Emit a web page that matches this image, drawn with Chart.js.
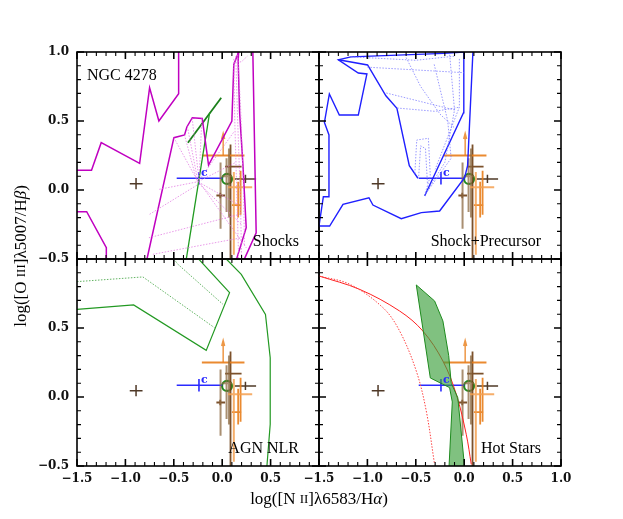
<!DOCTYPE html>
<html lang="en">
<head>
<meta charset="UTF-8">
<title>NGC 4278 diagnostic diagram</title>
<script src="https://cdn.jsdelivr.net/npm/chart.js"></script>
<style>
  body { margin: 0; background: #fff; }
  #wrap { position: relative; width: 623px; height: 519px; }
  #wrap canvas { position: absolute; left: 0; top: 0; }
</style>
</head>
<body>
<div id="wrap">
  <canvas id="p1" width="623" height="519"></canvas>
  <canvas id="p2" width="623" height="519"></canvas>
  <canvas id="p3" width="623" height="519"></canvas>
  <canvas id="p4" width="623" height="519"></canvas>
</div>
<script>
// ---- axes ----
const xRange = [-1.5, 1.0];
const yRange = [-0.5, 1.0];
const xTicksLeft = [-1.5, -1.0, -0.5, 0.0, 0.5];
const xTicksRight = [-1.5, -1.0, -0.5, 0.0, 0.5, 1.0];
const yTicksTop = [1.0, 0.5, 0.0, -0.5];
const yTicksBottom = [0.5, 0.0, -0.5];

// ---- observations (same in every panel) : [x, y, xLo, xHi, yLo, yHi] ----
const obsOrange = [
  [0.01, 0.25, -0.21, 0.23, 0.25, 0.25],
  [0.165, -0.11, 0.10, 0.20, -0.20, 0.06],
  [0.19, 0.10, 0.19, 0.19, -0.18, 0.14]
];
const obsOrangeLight = [
  [0.12, 0.02, 0.06, 0.31, -0.47, 0.13]
];
const obsArrow = [[0.01, 0.25, 0.41]]; // x, from y, to y
const obsTan = [
  [-0.017, -0.04, -0.017, -0.017, -0.28, 0.20],
  [0.045, 0.10, 0.0, 0.10, -0.16, 0.23],
  [0.07, 0.12, 0.07, 0.07, -0.20, 0.30]
];
const obsBrown = [
  [0.086, 0.17, 0.03, 0.20, -0.55, 0.33],
  [-0.02, -0.04, -0.06, 0.03, -0.06, -0.02]
];
const obsDark = [
  [0.24, 0.08, 0.13, 0.35, 0.05, 0.11],
  [-0.89, 0.046, -0.955, -0.823, 0.005, 0.087]
];
const obsBlue = [[-0.24, 0.085, -0.47, 0.0, 0.04, 0.13]];
const obsCircle = [[0.05, 0.08]];

// ---- Shocks ----
const shockLines = [
  [[-1.5, 0.143], [-1.35, 0.143], [-1.25, 0.343], [-0.853, 0.193], [-0.75, 0.741], [-0.654, 0.5], [-0.45, 0.698], [-0.45, 1.05]],
  [[-1.5, -0.157], [-1.40, -0.157], [-1.197, -0.418], [-1.197, -0.55]],
  [[-0.777, -0.5], [-0.499, 0.379], [-0.389, 0.399], [-0.365, 0.457], [-0.309, 0.524], [-0.206, 0.519], [-0.141, 0.181], [0.10, 0.50], [0.12, 0.91], [0.17, 1.0]],
  [[0.17, 1.0], [0.165, 0.94], [0.18, 0.56], [0.213, 0.198], [0.248, -0.273], [0.127, -0.55]],
  [[0.316, 1.02], [0.351, -0.31], [0.197, -0.55]]
];
const shockGrid = [
  [[-0.65, 0.005], [-0.25, 0.06]],
  [[-0.75, -0.176], [-0.25, 0.04]],
  [[-0.757, -0.346], [0.18, -0.176]],
  [[-0.716, -0.466], [0.20, -0.346]],
  [[-0.5, 0.38], [-0.25, 0.06], [0.15, -0.10]],
  [[-0.39, 0.40], [-0.26, 0.06], [0.20, -0.25]],
  [[-0.31, 0.52], [-0.24, 0.07], [0.12, 0.42]],
  [[-0.21, 0.52], [-0.24, 0.06], [0.25, -0.42]],
  [[-0.36, 0.46], [-0.25, 0.06], [0.14, 0.20]],
  [[0.12, 0.95], [0.13, 0.5], [0.15, 0.0], [0.17, -0.5]],
  [[0.14, 0.97], [0.16, 0.5], [0.19, -0.1], [0.20, -0.5]],
  [[0.16, 0.98], [0.19, 0.6], [0.22, 0.0], [0.23, -0.4]],
  [[0.12, 0.92], [0.20, 0.93], [0.26, 0.97]]
];
const shockGreen = [[-0.354, 0.343], [-0.01, 0.669]];
const shockGreenThin = [[-0.13, 0.56], [-0.371, -0.5]];

// ---- Shock + Precursor ----
const precLines = [
  [[-1.5, -0.261], [-1.39, -0.261], [-1.252, -0.104], [-0.984, -0.056], [-0.943, -0.109], [-0.65, -0.208], [-0.443, -0.164], [-0.254, -0.152], [0.004, 0.089], [0.035, 0.176], [0.09, 1.0]],
  [[-1.5, -0.26], [-1.455, -0.049], [-1.397, -0.049], [-1.397, 0.399], [-1.444, 0.49], [-1.393, 0.696], [-1.29, 0.543], [-1.094, 0.543], [-1.005, 0.841], [-1.094, 0.848], [-1.30, 0.944], [-1.17, 0.965], [-0.21, 0.99], [0.0, 1.0]],
  [[-1.30, 0.944], [-0.998, 0.906], [-0.809, 0.683], [-0.695, 0.592], [-0.567, 0.176], [-0.478, 0.085]],
  [[-0.409, -0.043], [-0.007, 0.56], [-0.004, 1.0]]
];
const precGrid = [
  [[-1.0, 0.89], [0.0, 0.85]],
  [[-1.17, 0.965], [-0.5, 0.94], [-0.1, 0.97]],
  [[-0.805, 0.703], [-0.1, 0.58]],
  [[-0.692, 0.594], [-0.3, 0.57], [-0.05, 0.60]],
  [[-0.31, 0.91], [-0.17, 0.50], [-0.135, 0.23], [-0.41, -0.04]],
  [[-0.15, 0.98], [-0.10, 0.58], [-0.20, 0.20], [-0.41, -0.04]],
  [[-0.05, 0.95], [-0.05, 0.60], [-0.30, 0.15]],
  [[-0.51, 0.12], [-0.49, 0.362], [-0.37, 0.375], [-0.35, 0.10], [-0.41, -0.04]],
  [[-0.47, 0.10], [-0.45, 0.32], [-0.40, 0.30], [-0.38, 0.05]],
  [[-0.6, 0.96], [-0.45, 0.75], [-0.25, 0.55], [-0.1, 0.45]]
];

// ---- AGN NLR ----
const agnLines = [
  [[-1.5, 0.635], [-0.915, 0.667], [-0.165, 0.338], [0.076, 0.756], [-0.27, 1.02]],
  [[0.042, 1.0], [0.197, 0.889], [0.447, 0.599], [0.496, 0.285], [0.496, -0.198], [0.462, -0.5]]
];
const agnDotted = [
  [[-1.5, 0.836], [-0.819, 0.87], [-0.079, 0.502]],
  [[-0.5, 1.0], [-0.458, 0.962], [0.007, 0.672]]
];

// ---- Hot Stars ----
const hotSolid = [[-1.5, 0.877], [-1.08, 0.78], [-0.667, 0.623], [-0.427, 0.478], [-0.22, 0.261], [-0.082, 0.02], [0.021, -0.27], [0.073, -0.488]];
const hotDotted = [[-1.5, 0.877], [-1.183, 0.817], [-0.839, 0.647], [-0.667, 0.478], [-0.495, 0.188], [-0.392, -0.101], [-0.306, -0.488]];
const hotBand = [[-0.495, 0.812], [-0.306, 0.696], [-0.22, 0.551], [-0.16, 0.30], [-0.134, 0.10], [-0.066, -0.005], [0.01, -0.55], [-0.16, -0.55], [-0.123, -0.036], [-0.151, 0.068], [-0.35, 0.138], [-0.495, 0.812]];

// ---------------------------------------------------------------
function pts(list) { return list.map(p => ({ x: p[0], y: p[1] })); }

function lineSet(list, color, width, dash) {
  return {
    data: pts(list), showLine: true, borderColor: color, borderWidth: width,
    borderDash: dash || [], pointRadius: 0, fill: false, tension: 0
  };
}

function errorBars(rows, color, width) {
  const data = [];
  rows.forEach(r => {
    data.push({ x: r[2], y: r[1] }, { x: r[3], y: r[1] }, { x: r[0], y: null });
    data.push({ x: r[0], y: r[4] }, { x: r[0], y: r[5] }, { x: r[0], y: null });
  });
  return { data, showLine: true, spanGaps: false, borderColor: color, borderWidth: width, pointRadius: 0 };
}

function arrows(rows, color) {
  const data = [];
  rows.forEach(r => {
    data.push({ x: r[0], y: r[1] }, { x: r[0], y: r[2] }, { x: r[0], y: null });
    data.push({ x: r[0] - 0.015, y: r[2] - 0.04 }, { x: r[0], y: r[2] }, { x: r[0] + 0.015, y: r[2] - 0.04 }, { x: r[0], y: null });
  });
  return { data, showLine: true, spanGaps: false, borderColor: color, borderWidth: 1.5, pointRadius: 0 };
}

function obsSets() {
  return [
    errorBars(obsOrangeLight, 'rgba(245,160,80,0.85)', 2),
    errorBars(obsTan, 'rgba(140,105,65,0.75)', 2),
    errorBars(obsOrange, 'rgba(232,125,25,0.9)', 1.8),
    arrows(obsArrow, 'rgba(235,140,50,0.9)'),
    errorBars(obsBrown, 'rgba(110,62,20,0.9)', 1.8),
    errorBars(obsDark, 'rgba(60,35,15,0.9)', 1.5),
    errorBars(obsBlue, '#2a2aff', 1.6),
    {
      data: pts(obsCircle), showLine: false, pointRadius: 5, pointStyle: 'circle',
      pointBorderColor: '#1f8a1f', pointBorderWidth: 2.2, pointBackgroundColor: 'rgba(0,0,0,0)'
    }
  ];
}

const magenta = '#c000c0';
const panels = [
  {
    id: 'p1', col: 0, row: 0, label: 'Shocks', name: 'NGC 4278',
    yTicks: yTicksTop, xTicks: null,
    sets: [].concat(
      shockGrid.map(l => lineSet(l, 'rgba(225,120,225,0.75)', 1, [1.5, 1.5])),
      shockLines.map(l => lineSet(l, magenta, 1.5)),
      [lineSet(shockGreenThin, '#1f9a1f', 1.3), lineSet(shockGreen, '#1a7f1a', 1.8)]
    )
  },
  {
    id: 'p2', col: 1, row: 0, label: 'Shock+Precursor',
    yTicks: null, xTicks: null,
    sets: [].concat(
      precGrid.map(l => lineSet(l, 'rgba(120,120,255,0.75)', 1, [1.5, 1.5])),
      precLines.map(l => lineSet(l, '#1f1fff', 1.4))
    )
  },
  {
    id: 'p3', col: 0, row: 1, label: 'AGN NLR', titles: true,
    yTicks: yTicksBottom, xTicks: xTicksLeft,
    sets: [].concat(
      agnDotted.map(l => lineSet(l, 'rgba(60,160,60,0.8)', 1, [1.5, 1.5])),
      agnLines.map(l => lineSet(l, '#229922', 1.2))
    )
  },
  {
    id: 'p4', col: 1, row: 1, label: 'Hot Stars',
    yTicks: null, xTicks: xTicksRight,
    sets: [
      Object.assign(lineSet(hotBand, '#1e8a1e', 1), { fill: 'shape', backgroundColor: 'rgba(60,160,60,0.65)' }),
      Object.assign(lineSet(hotDotted, '#ff4040', 1, [1.5, 1.5]), { tension: 0.35 }),
      Object.assign(lineSet(hotSolid, '#ff2020', 1), { tension: 0.35 })
    ]
  }
];

const colX = [77, 319, 561];
const rowY = [52, 259, 466];
const W = 623, H = 519;
const tickFont = 'bold 12px "DejaVu Serif"';
const textFont = '16px "Liberation Serif"';

function drawRich(ctx, parts, x, y) {
  let w = 0;
  parts.forEach(p => { ctx.font = p[1]; w += ctx.measureText(p[0]).width; });
  let cx = x - w / 2;
  parts.forEach(p => { ctx.font = p[1]; ctx.fillText(p[0], cx, y); cx += ctx.measureText(p[0]).width; });
}

const fmt = v => (v < 0 ? '\u2212' : '') + Math.abs(v).toFixed(1);

const framePlugin = {
  id: 'frame',
  afterDraw(chart, args, o) {
    const { ctx, chartArea: a, scales: { x, y } } = chart;
    ctx.save();
    ctx.strokeStyle = '#000';
    // minor / major ticks, pointing inward on all sides
    for (let i = 0; i <= 25; i++) {
      const px = x.getPixelForValue(-1.5 + i * 0.1);
      const len = i % 5 === 0 ? 7 : 4;
      ctx.lineWidth = i % 5 === 0 ? 1.6 : 1.1;
      ctx.beginPath();
      ctx.moveTo(px, a.bottom); ctx.lineTo(px, a.bottom - len);
      ctx.moveTo(px, a.top); ctx.lineTo(px, a.top + len);
      ctx.stroke();
    }
    for (let i = 0; i <= 15; i++) {
      const py = y.getPixelForValue(-0.5 + i * 0.1);
      const len = i % 5 === 0 ? 7 : 4;
      ctx.lineWidth = i % 5 === 0 ? 1.6 : 1.1;
      ctx.beginPath();
      ctx.moveTo(a.left, py); ctx.lineTo(a.left + len, py);
      ctx.moveTo(a.right, py); ctx.lineTo(a.right - len, py);
      ctx.stroke();
    }
    ctx.lineWidth = 1.6;
    ctx.strokeRect(a.left, a.top, a.right - a.left, a.bottom - a.top);

    ctx.fillStyle = '#111';
    ctx.font = tickFont;
    if (o.xTicks) {
      ctx.textAlign = 'center'; ctx.textBaseline = 'top';
      o.xTicks.forEach(v => ctx.fillText(fmt(v), x.getPixelForValue(v), a.bottom + 7));
    }
    if (o.yTicks) {
      ctx.textAlign = 'right'; ctx.textBaseline = 'middle';
      o.yTicks.forEach(v => ctx.fillText(fmt(v), a.left - 8, y.getPixelForValue(v)));
    }

    // panel labels
    ctx.font = textFont;
    ctx.fillStyle = '#000';
    ctx.textAlign = 'right'; ctx.textBaseline = 'alphabetic';
    ctx.fillText(o.label, a.right - 20, a.bottom - 13);
    if (o.name) {
      ctx.textAlign = 'left';
      ctx.fillText(o.name, a.left + 10, a.top + 28);
    }

    // "c" label next to the blue point
    ctx.font = 'bold 11px "DejaVu Serif"';
    ctx.fillStyle = '#2a2aff';
    ctx.textAlign = 'left'; ctx.textBaseline = 'alphabetic';
    ctx.fillText('c', x.getPixelForValue(obsBlue[0][0]) + 2, y.getPixelForValue(obsBlue[0][1]) - 2);

    if (o.titles) {
      const f = '17px "Liberation Serif"';
      const fs = '13px "Liberation Serif"';
      const fi = 'italic 17px "Liberation Serif"';
      ctx.fillStyle = '#000';
      ctx.textAlign = 'left'; ctx.textBaseline = 'middle';
      drawRich(ctx, [['log([N ', f], ['II', fs], [']\u03bb6583/H', f], ['\u03b1', fi], [')', f]], colX[1], 500);
      ctx.translate(22, 256);
      ctx.rotate(-Math.PI / 2);
      drawRich(ctx, [['log([O ', f], ['III', fs], [']\u03bb5007/H', f], ['\u03b2', fi], [')', f]], 0, 0);
    }
    ctx.restore();
  }
};

panels.forEach(p => {
  new Chart(document.getElementById(p.id), {
    type: 'scatter',
    data: { datasets: p.sets.concat(obsSets()) },
    options: {
      responsive: false,
      animation: false,
      events: [],
      layout: {
        padding: {
          left: colX[p.col], right: W - colX[p.col + 1],
          top: rowY[p.row], bottom: H - rowY[p.row + 1]
        }
      },
      scales: {
        x: { type: 'linear', min: xRange[0], max: xRange[1], display: false },
        y: { type: 'linear', min: yRange[0], max: yRange[1], display: false }
      },
      plugins: {
        legend: { display: false },
        tooltip: { enabled: false },
        frame: { label: p.label, name: p.name, xTicks: p.xTicks, yTicks: p.yTicks, titles: p.titles }
      }
    },
    plugins: [framePlugin]
  });
});
</script>
</body>
</html>
